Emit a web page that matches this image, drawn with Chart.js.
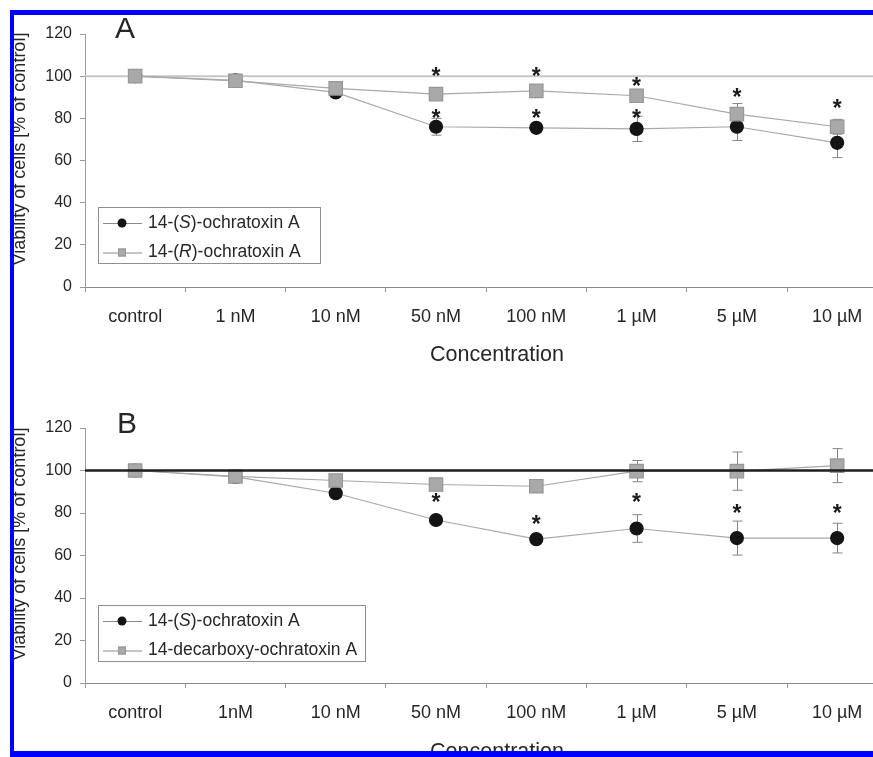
<!DOCTYPE html>
<html>
<head>
<meta charset="utf-8">
<script src="https://cdn.jsdelivr.net/npm/chart.js@4/dist/chart.umd.min.js"></script>
<style>
  html, body { margin: 0; padding: 0; background: #fff; }
  #page { position: relative; width: 873px; height: 757px; overflow: hidden; background: #fff; }
  .panel { position: absolute; left: 0; width: 898px; height: 380px; }
  #panelA { top: 0; }
  #panelB { top: 390px; }
  .frame { position: absolute; background: #0000ff; z-index: 5; }
</style>
</head>
<body>
<div id="page">
  <div class="panel" id="panelA"><canvas id="chartA" width="898" height="380"></canvas></div>
  <div class="panel" id="panelB"><canvas id="chartB" width="898" height="380"></canvas></div>
  <div class="frame" style="left:10px; top:10px; width:863px; height:5px"></div>
  <div class="frame" style="left:10px; top:10px; width:4px; height:747px"></div>
  <div class="frame" style="left:10px; top:751px; width:863px; height:6px"></div>
</div>
<script>
// --- Data ---
const labelsA = ['control', '1 nM', '10 nM', '50 nM', '100 nM', '1 µM', '5 µM', '10 µM'];
const labelsB = ['control', '1nM', '10 nM', '50 nM', '100 nM', '1 µM', '5 µM', '10 µM'];
const yTicks = [0, 20, 40, 60, 80, 100, 120];

// panel A
const aS = [100, 98, 92.3, 76, 75.5, 75, 76, 68.4];
const aSErr = [0, 2, 1, 4, 2, 6, 6.5, 7];
const aSStars = [null, null, null, 82.5, 82.5, 82.5, null, null];
const aR = [100, 97.8, 94.2, 91.5, 93, 90.7, 82, 76];
const aRErr = [0, 3, 1, 2, 2, 3, 5, 3.5];
const aRStars = [null, null, null, 102.4, 102.4, 97.3, 92.4, 87.2];

// panel B
const bS = [100, 97, 89.3, 76.7, 67.7, 72.7, 68.2, 68.2];
const bSErr = [0, 1, 2, 2, 2, 6.5, 8, 7];
const bSStars = [null, null, null, 87.1, 77.1, 87.1, 81.9, 81.9];
const bD = [100, 97.2, 95.3, 93.4, 92.6, 99.7, 99.7, 102.3];
const bDErr = [0, 1, 1, 1, 1, 5, 9, 8];

const FONT = '"Liberation Sans", Arial, sans-serif';
const TEXT = '#262626';

// --- Drawing helpers ---
function drawRefLine(chart, o) {
    const { ctx, chartArea } = chart;
    const y = chart.scales.y.getPixelForValue(100);
    ctx.save();
    ctx.strokeStyle = o.refColor;
    ctx.lineWidth = o.refWidth;
    ctx.beginPath();
    ctx.moveTo(chartArea.left, y);
    ctx.lineTo(chartArea.right, y);
    ctx.stroke();
    ctx.restore();
}

function drawErrorBars(chart) {
    const { ctx } = chart;
    const ys = chart.scales.y;
    ctx.save();
    ctx.strokeStyle = '#858585';
    ctx.lineWidth = 1;
    chart.data.datasets.forEach((ds, i) => {
        if (!ds.errors) return;
        chart.getDatasetMeta(i).data.forEach((pt, j) => {
            const e = ds.errors[j];
            if (!e) return;
            const x = Math.round(pt.x) + 0.5;
            const top = ys.getPixelForValue(ds.data[j] + e);
            const bot = ys.getPixelForValue(ds.data[j] - e);
            ctx.beginPath();
            ctx.moveTo(x, top); ctx.lineTo(x, bot);
            ctx.moveTo(x - 5, top); ctx.lineTo(x + 5, top);
            ctx.moveTo(x - 5, bot); ctx.lineTo(x + 5, bot);
            ctx.stroke();
        });
    });
    ctx.restore();
}

function drawStars(chart) {
    const { ctx } = chart;
    const ys = chart.scales.y;
    ctx.save();
    ctx.fillStyle = '#1a1a1a';
    ctx.font = 'bold 23px ' + FONT;
    ctx.textAlign = 'center';
    ctx.textBaseline = 'alphabetic';
    const m = ctx.measureText('*');
    const shift = (m.actualBoundingBoxAscent - m.actualBoundingBoxDescent) / 2;
    chart.data.datasets.forEach((ds, i) => {
        if (!ds.stars) return;
        chart.getDatasetMeta(i).data.forEach((pt, j) => {
            const s = ds.stars[j];
            if (s == null) return;
            ctx.fillText('*', pt.x, ys.getPixelForValue(s) + shift);
        });
    });
    ctx.restore();
}

function drawMarker(ctx, ds, x, y, r) {
    ctx.save();
    ctx.fillStyle = ds.pointBackgroundColor;
    ctx.strokeStyle = ds.pointBorderColor;
    ctx.lineWidth = 1;
    if (ds.pointStyle === 'rect') {
        ctx.fillRect(x - r, y - r, 2 * r, 2 * r);
        ctx.strokeRect(x - r + 0.5, y - r + 0.5, 2 * r - 1, 2 * r - 1);
    } else {
        ctx.beginPath();
        ctx.arc(x, y, r, 0, Math.PI * 2);
        ctx.fill();
    }
    ctx.restore();
}

function drawLegend(chart, o) {
    const { ctx } = chart;
    const b = o.legendBox;
    ctx.save();
    ctx.strokeStyle = '#8f8f8f';
    ctx.lineWidth = 1;
    ctx.strokeRect(b.x + 0.5, b.y + 0.5, b.w, b.h);
    chart.data.datasets.forEach((ds, i) => {
        const y = b.y + 16 + i * 29.5;
        ctx.strokeStyle = '#8a8a8a';
        ctx.beginPath();
        ctx.moveTo(b.x + 5, y + 0.5);
        ctx.lineTo(b.x + 44, y + 0.5);
        ctx.stroke();
        drawMarker(ctx, ds, b.x + 24, y, ds.pointStyle === 'rect' ? 4 : 4.5);
        // label with italic parts between <i></i>
        const parts = ds.label.split(/<\/?i>/);
        let x = b.x + 50;
        ctx.fillStyle = TEXT;
        ctx.textBaseline = 'middle';
        ctx.textAlign = 'left';
        parts.forEach((p, k) => {
            ctx.font = (k % 2 ? 'italic ' : '') + '17.5px ' + FONT;
            ctx.fillText(p, x, y);
            x += ctx.measureText(p).width;
        });
    });
    ctx.restore();
}

function drawTitles(chart, o) {
    const { ctx } = chart;
    ctx.save();
    ctx.fillStyle = TEXT;
    ctx.font = '30px ' + FONT;
    ctx.textAlign = 'left';
    ctx.textBaseline = 'alphabetic';
    ctx.fillText(o.letter, o.letterX, o.letterY);
    // x axis title
    ctx.font = '21.5px ' + FONT;
    ctx.textAlign = 'center';
    ctx.textBaseline = 'middle';
    ctx.fillText('Concentration', 497, o.xTitleY);
    // y axis title
    ctx.translate(20, o.yTitleY);
    ctx.rotate(-Math.PI / 2);
    ctx.font = '18px ' + FONT;
    ctx.fillText('Viability of cells [% of control]', 0, 0);
    ctx.restore();
}

const panelPlugin = {
    id: 'panel',
    beforeDatasetsDraw(chart) {
        const o = chart.options.plugins.panel;
        if (!o.refOnTop) drawRefLine(chart, o);
        drawErrorBars(chart);
    },
    afterDatasetsDraw(chart) {
        const o = chart.options.plugins.panel;
        if (o.refOnTop) drawRefLine(chart, o);
        drawStars(chart);
        drawLegend(chart, o);
        drawTitles(chart, o);
    }
};

function blackSet(label, data, errors, stars) {
    return {
        label, data, errors, stars,
        order: 1,
        borderColor: '#a8a8a8', borderWidth: 1.2,
        pointStyle: 'circle', pointRadius: 6.5,
        pointBackgroundColor: '#141414', pointBorderColor: '#141414'
    };
}

function graySet(label, data, errors, stars) {
    return {
        label, data, errors, stars,
        order: 0,
        borderColor: '#a8a8a8', borderWidth: 1.2,
        pointStyle: 'rect', pointRadius: 9.5,
        pointBackgroundColor: '#a9a9a9', pointBorderColor: '#969696'
    };
}

function makeChart(id, labels, datasets, p) {
    return new Chart(document.getElementById(id), {
        type: 'line',
        data: { labels, datasets },
        options: {
            responsive: false,
            animation: false,
            events: [],
            layout: { padding: { top: p.padTop, right: 3, left: 0, bottom: 0 } },
            plugins: {
                legend: { display: false },
                tooltip: { enabled: false },
                panel: p
            },
            scales: {
                x: {
                    offset: true,
                    ticks: { color: TEXT, font: { family: FONT, size: 18 }, padding: 14, autoSkip: false, maxRotation: 0 },
                    grid: { offset: true, drawOnChartArea: false, tickLength: 5, color: '#999' },
                    border: { color: '#8a8a8a' },
                    afterFit(s) { s.height = p.xHeight; }
                },
                y: {
                    min: 0, max: 120,
                    afterBuildTicks(s) { s.ticks = yTicks.map(v => ({ value: v })); },
                    ticks: { color: TEXT, font: { family: FONT, size: 16 }, padding: 8 },
                    grid: { drawOnChartArea: false, tickLength: 5, color: '#999' },
                    border: { color: '#9a9a9a' },
                    afterFit(s) { s.width = 85; }
                }
            }
        },
        plugins: [panelPlugin]
    });
}

makeChart('chartA', labelsA, [
    blackSet('14-(<i>S</i>)-ochratoxin A', aS, aSErr, aSStars),
    graySet('14-(<i>R</i>)-ochratoxin A', aR, aRErr, aRStars)
], {
    padTop: 34, xHeight: 93, xTitleY: 355,
    refColor: '#c6c6c6', refWidth: 2, refOnTop: false,
    legendBox: { x: 98, y: 207, w: 222, h: 56 },
    letter: 'A', letterX: 115, letterY: 38, yTitleY: 149
});

makeChart('chartB', labelsB, [
    blackSet('14-(<i>S</i>)-ochratoxin A', bS, bSErr, bSStars),
    graySet('14-decarboxy-ochratoxin A', bD, bDErr, null)
], {
    padTop: 38, xHeight: 87, xTitleY: 362,
    refColor: '#1e1e1e', refWidth: 2.5, refOnTop: true,
    legendBox: { x: 98, y: 215, w: 267, h: 56 },
    letter: 'B', letterX: 117, letterY: 43, yTitleY: 154
});
</script>
</body>
</html>
